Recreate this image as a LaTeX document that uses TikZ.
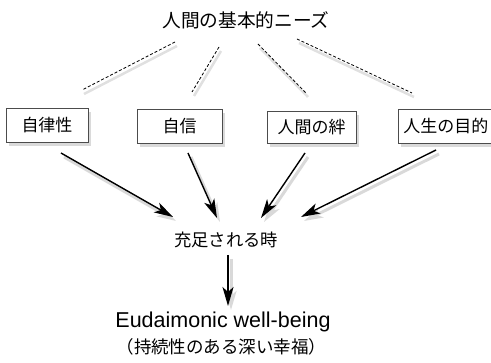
\documentclass[tikz,border=0pt]{standalone}
\usepackage{fontspec}
\setmainfont{Liberation Sans}
\newfontfamily\jp{Noto Sans CJK JP}
\usetikzlibrary{arrows.meta,shadows}
\begin{document}
\begin{tikzpicture}[x=1pt,y=-1pt,
  needbox/.style={draw=black!70, line width=0.8pt, fill=white, minimum height=34pt,
    inner xsep=5pt, font=\jp\fontsize{17}{17}\selectfont,
    drop shadow={shadow xshift=3pt, shadow yshift=-4pt, fill=black!18, opacity=0.8}},
  lbl/.style={inner sep=0pt},
  dash line/.style={draw=black, line width=0.8pt, dash pattern=on 3pt off 2pt,
    preaction={draw=black!12, line width=2.5pt, solid, transform canvas={shift={(2,4)}}}},
  arr/.style={draw=black, line width=1.4pt, -{Stealth[length=19pt,width=11pt,inset=5pt]},
    preaction={draw=black!15, line width=3pt, transform canvas={shift={(3,4)}}}}
]
\useasboundingbox (0,0) rectangle (491,363);
\clip (0,0) rectangle (491,363);

% title
\node[lbl, font=\jp\fontsize{18.7}{18.7}\selectfont] (title) at (246,20) {人間の基本的ニーズ};

% boxes
\node[needbox, minimum width=82pt] (b1) at (47,125.5) {自律性};
\node[needbox, minimum width=85pt] (b2) at (179.5,126) {自信};
\node[needbox, minimum width=89pt, minimum height=32pt] (b3) at (311.5,127) {人間の絆};
\node[needbox, anchor=west, text width=115pt, align=left] (b4) at (398,126) {人生の目的};

% dashed connector end points
\coordinate (d1s) at (175,42); \coordinate (d1e) at (82,90);
\coordinate (d2s) at (219,47); \coordinate (d2e) at (192,92);
\coordinate (d3s) at (258,44); \coordinate (d3e) at (306,93);
\coordinate (d4s) at (297,39); \coordinate (d4e) at (412,93);
\draw[dash line] (d1s) -- (d1e);
\draw[dash line] (d2s) -- (d2e);
\draw[dash line] (d3s) -- (d3e);
\draw[dash line] (d4s) -- (d4e);

% fulfilled
\node[lbl, font=\jp\fontsize{17.3}{17.3}\selectfont] (ful) at (226,240) {充足される時};

% arrows
\coordinate (a1s) at (61,153);  \coordinate (a1e) at (173,217);
\coordinate (a2s) at (188,153); \coordinate (a2e) at (217,218);
\coordinate (a3s) at (305,153); \coordinate (a3e) at (261,218);
\coordinate (a4s) at (436,150); \coordinate (a4e) at (301,217);
\draw[arr] (a1s) -- (a1e);
\draw[arr] (a2s) -- (a2e);
\draw[arr] (a3s) -- (a3e);
\draw[arr] (a4s) -- (a4e);

% result
\node[lbl, font=\fontsize{21.5}{21.5}\selectfont] (eud) at (223,322) {Eudaimonic well-being};
\node[lbl, font=\jp\fontsize{17.5}{17.5}\selectfont] (sub) at (221.5,347) {（持続性のある深い幸福）};

\coordinate (ds) at (228,255); \coordinate (de) at (228,306);
\draw[arr] (ds) -- (de);
\end{tikzpicture}
\end{document}
